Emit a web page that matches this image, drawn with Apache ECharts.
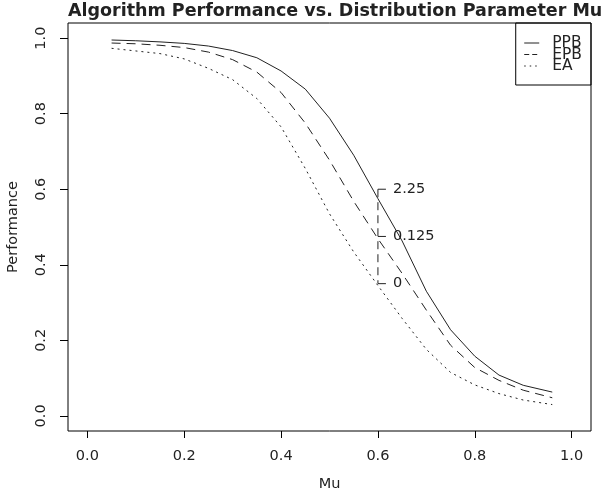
<!DOCTYPE html>
<html>
<head>
<meta charset="utf-8">
<script src="https://cdn.jsdelivr.net/npm/echarts@6/dist/echarts.min.js"></script>
<style>html,body{margin:0;padding:0;background:#fff}#c{width:603px;height:497px}</style>
</head>
<body>
<div id="c"></div>
<script>
const mu  = [0.05,0.10,0.15,0.20,0.25,0.30,0.35,0.40,0.45,0.50,0.55,0.60,0.65,0.70,0.75,0.80,0.85,0.90,0.96];
const PPB = [0.995,0.993,0.990,0.986,0.979,0.967,0.948,0.913,0.865,0.788,0.690,0.575,0.463,0.330,0.228,0.158,0.108,0.081,0.063];
const EPB = [0.987,0.985,0.981,0.975,0.963,0.943,0.910,0.856,0.775,0.677,0.568,0.469,0.377,0.280,0.187,0.128,0.094,0.068,0.048];
const EA  = [0.973,0.966,0.959,0.945,0.920,0.890,0.840,0.765,0.655,0.535,0.434,0.345,0.258,0.176,0.115,0.082,0.059,0.042,0.030];
const xTicks = [0,0.2,0.4,0.6,0.8,1.0];
const yTicks = [0,0.2,0.4,0.6,0.8,1.0];
const annotX = 0.6;
const annotTicks = [0.6, 0.475, 0.35];
const annotLabels = ['2.25','0.125','0'];

const FONT = 'DejaVu Sans';
const FS = 14.5;
const INK = '#222';
const pair = ys => mu.map((x,i)=>[x, ys[i]]);

const chart = echarts.init(document.getElementById('c'), null, {renderer:'canvas'});
chart.setOption({
  animation:false,
  backgroundColor:'#fff',
  textStyle:{fontFamily:FONT, color:INK},
  title:{
    text:'Algorithm Performance vs. Distribution Parameter Mu',
    left:68, top:2, padding:0,
    textStyle:{fontFamily:FONT, fontWeight:'bold', fontSize:17.5, color:INK}
  },
  grid:{left:68, right:12, top:23, bottom:66, show:true, borderColor:'#000', borderWidth:1,
        containLabel:false, outerBoundsMode:'none'},
  legend:{
    orient:'vertical', right:12, top:23,
    borderColor:'#000', borderWidth:1, borderRadius:0,
    padding:[12,9,11,8],
    itemWidth:15, itemHeight:10, itemGap:-4.5,
    itemStyle:{opacity:0},
    lineStyle:{width:1, color:INK},
    textStyle:{fontFamily:FONT, fontSize:15.5, color:INK, padding:[0,0,0,8]},
    data:[
      {name:'PPB', lineStyle:{type:'solid', width:1}},
      {name:'EPB', lineStyle:{type:[5,3], width:1}},
      {name:'EA',  lineStyle:{type:[1.5,4], width:1}}
    ]
  },
  xAxis:{
    type:'value', min:-0.04, max:1.04,
    name:'Mu', nameLocation:'middle', nameGap:46,
    nameTextStyle:{fontFamily:FONT, fontSize:FS, color:INK},
    axisLine:{show:false, onZero:false},
    splitLine:{show:false},
    axisTick:{show:true, length:7, customValues:xTicks, lineStyle:{color:'#000'}},
    axisLabel:{customValues:xTicks, margin:18, fontFamily:FONT, fontSize:FS, color:INK, formatter:v=>v.toFixed(1)}
  },
  yAxis:{
    type:'value', min:-0.04, max:1.04,
    name:'Performance', nameLocation:'middle', nameGap:47,
    nameTextStyle:{fontFamily:FONT, fontSize:FS, color:INK},
    axisLine:{show:false, onZero:false},
    splitLine:{show:false},
    axisTick:{show:true, length:8, customValues:yTicks, lineStyle:{color:'#000'}},
    axisLabel:{customValues:yTicks, margin:19, rotate:90, fontFamily:FONT, fontSize:FS, color:INK, formatter:v=>v.toFixed(1)}
  },
  series:[
    {name:'PPB', type:'line', data:pair(PPB), showSymbol:false, symbol:'none',
     lineStyle:{color:INK, width:1, type:'solid'}, itemStyle:{color:INK}},
    {name:'EPB', type:'line', data:pair(EPB), showSymbol:false, symbol:'none',
     lineStyle:{color:INK, width:1, type:[9,6]}, itemStyle:{color:INK}},
    {name:'EA', type:'line', data:pair(EA), showSymbol:false, symbol:'none',
     lineStyle:{color:INK, width:1, type:[2,4]}, itemStyle:{color:INK}},
    {name:'annot', type:'custom', silent:true,
     data:annotTicks.map((v,i)=>[annotX, v, i]),
     renderItem:(params, api)=>{
       const i = api.value(2);
       const p = api.coord([api.value(0), api.value(1)]);
       const children = [
         {type:'line', shape:{x1:p[0], y1:p[1], x2:p[0]+8, y2:p[1]}, style:{stroke:INK, lineWidth:1}},
         {type:'text', style:{text:annotLabels[i], x:p[0]+15, y:p[1], verticalAlign:'middle', align:'left',
           font:FS+'px "'+FONT+'"', fill:INK}}
       ];
       if (i === 0) {
         const top = api.coord([annotX, Math.max(...annotTicks)]);
         const bot = api.coord([annotX, Math.min(...annotTicks)]);
         children.push({type:'line', shape:{x1:top[0], y1:top[1], x2:bot[0], y2:bot[1]},
           style:{stroke:INK, lineWidth:1, lineDash:[8,5]}});
       }
       return {type:'group', children};
     }}
  ]
});
</script>
</body>
</html>
